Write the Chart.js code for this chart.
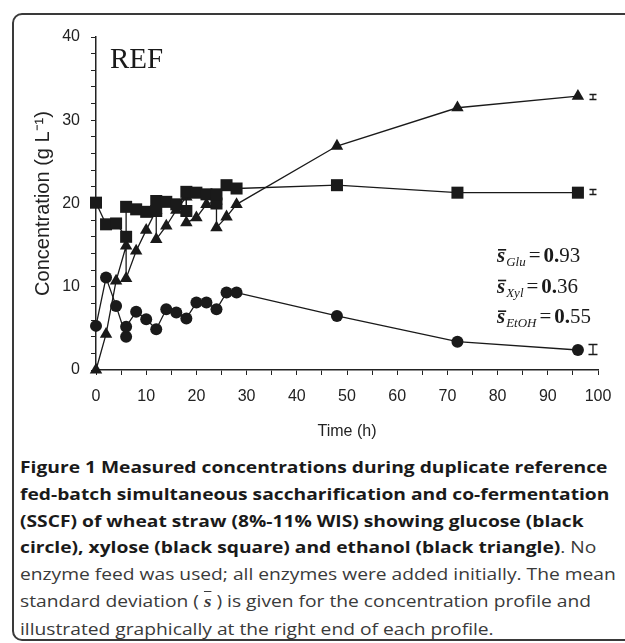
<!DOCTYPE html>
<html>
<head>
<meta charset="utf-8">
<script src="https://cdn.jsdelivr.net/npm/chart.js@4.4.0/dist/chart.umd.min.js"></script>
<style>
  html, body { margin: 0; padding: 0; background: #fff; }
  body { width: 625px; height: 643px; position: relative; overflow: hidden; }
  #frame { position: absolute; left: 12px; top: 13px; width: 650px; height: 628px; border: 2px solid #3a3a3a; border-radius: 10px; box-sizing: border-box; }
  #chartCanvas { position: absolute; left: 0; top: 0; }
  #caption { position: absolute; left: 20px; top: 454px; font-family: "Open Sans"; font-size: 16.5px; line-height: 26.8px; color: #3a3a3a; white-space: nowrap; transform: scaleX(1.165); transform-origin: 0 0; }
  #caption b { color: #1a1a1a; }
  .sbar { font-family: "Liberation Serif"; font-style: italic; font-weight: bold; text-decoration: overline; }
</style>
</head>
<body>
<div id="frame"></div>
<canvas id="chartCanvas" width="625" height="450"></canvas>
<div id="caption"><b>Figure 1 Measured concentrations during duplicate reference<br>fed-batch simultaneous saccharification and co-fermentation<br>(SSCF) of wheat straw (8%-11% WIS) showing glucose (black<br>circle), xylose (black square) and ethanol (black triangle)</b>. No<br>enzyme feed was used; all enzymes were added initially. The mean<br>standard deviation ( <span class="sbar">s</span> ) is given for the concentration profile and<br>illustrated graphically at the right end of each profile.</div>
<script>
// measured values, duplicates listed in the order the line joins them
const glucoseTime = [0, 2, 4, 6, 6, 8, 10, 12, 14, 16, 18, 20, 22, 24, 26, 28, 48, 72, 96];
const glucoseConc = [5.3, 11.1, 7.7, 4.0, 5.2, 7.0, 6.1, 4.9, 7.3, 6.9, 6.2, 8.1, 8.1, 7.3, 9.3, 9.3, 6.5, 3.4, 2.4];

const xyloseTime = [0, 2, 4, 6, 6, 8, 10, 12, 12, 14, 16, 18, 18, 20, 22, 24, 24, 26, 28, 48, 72, 96];
const xyloseConc = [20.1, 17.5, 17.6, 16.0, 19.6, 19.3, 19.0, 19.1, 20.3, 20.2, 19.9, 19.1, 21.4, 21.3, 21.1, 20.0, 21.1, 22.2, 21.8, 22.2, 21.3, 21.3];

const ethanolTime = [0, 2, 4, 6, 6, 8, 10, 12, 12, 14, 16, 18, 18, 20, 22, 24, 24, 26, 28, 48, 72, 96];
const ethanolConc = [0, 4.3, 10.7, 14.9, 11.0, 14.3, 16.8, 19.2, 15.7, 17.3, 19.2, 20.8, 17.7, 18.3, 19.9, 20.3, 17.1, 18.4, 19.9, 26.9, 31.5, 32.9];

// mean standard deviations, drawn as bars at the right end
const sdNames = ["Glu", "Xyl", "EtOH"];
const sdText = [["0.", "93"], ["0.", "36"], ["0.", "55"]];
const barTime = 99;
const barCenter = [2.5, 21.4, 32.8];
const barHalf = [0.6, 0.3, 0.3];

const ink = "#1a1a1a";

function toPoints(t, v) {
    return t.map((x, i) => ({ x, y: v[i] }));
}

function series(label, t, v, style, radius) {
    return {
        label: label,
        data: toPoints(t, v),
        borderColor: ink,
        backgroundColor: ink,
        borderWidth: 1.3,
        pointStyle: style,
        pointRadius: radius,
        pointBorderWidth: 0,
        tension: 0,
        clip: false,
    };
}

const extras = {
    id: "extras",
    afterDatasetsDraw(chart) {
        const { ctx, scales: { x, y } } = chart;
        ctx.save();
        ctx.strokeStyle = ink;
        ctx.fillStyle = ink;
        ctx.lineWidth = 1.3;

        // error bars
        barCenter.forEach((c, i) => {
            const px = x.getPixelForValue(barTime);
            const top = Math.round(y.getPixelForValue(c + barHalf[i])) + 0.5;
            const bot = Math.round(y.getPixelForValue(c - barHalf[i])) + 0.5;
            const w = i === 0 ? 4.5 : 3.5;
            ctx.beginPath();
            ctx.moveTo(px, top); ctx.lineTo(px, bot);
            ctx.moveTo(px - w, top); ctx.lineTo(px + w, top);
            ctx.moveTo(px - w, bot); ctx.lineTo(px + w, bot);
            ctx.stroke();
        });

        ctx.textBaseline = "alphabetic";
        ctx.font = '29px "Liberation Serif"';
        ctx.fillText("REF", 110, 68);

        sdNames.forEach((name, i) => {
            let cx = 497;
            const by = 262 + i * 30.7;
            ctx.font = 'italic bold 21px "Liberation Serif"';
            ctx.fillText("s", cx, by);
            const sw = ctx.measureText("s").width;
            ctx.fillRect(cx + 1, by - 13, sw, 1.6);
            cx += sw + 1;
            ctx.font = 'italic 13px "Liberation Serif"';
            ctx.fillText(name, cx, by + 4);
            cx += ctx.measureText(name).width + 3;
            ctx.font = '21px "Liberation Serif"';
            ctx.fillText("=", cx, by);
            cx += ctx.measureText("=").width + 3;
            ctx.font = 'bold 21px "Liberation Serif"';
            ctx.fillText(sdText[i][0], cx, by);
            cx += ctx.measureText(sdText[i][0]).width;
            ctx.font = '21px "Liberation Serif"';
            ctx.fillText(sdText[i][1], cx, by);
        });
        ctx.restore();
    },
};

const axisFont = { family: "Liberation Sans", size: 16 };

new Chart(document.getElementById("chartCanvas"), {
    type: "line",
    data: {
        datasets: [
            series("Glucose", glucoseTime, glucoseConc, "circle", 6),
            series("Xylose", xyloseTime, xyloseConc, "rect", 8.5),
            series("Ethanol", ethanolTime, ethanolConc, "triangle", 7.2),
        ],
    },
    options: {
        responsive: false,
        animation: false,
        devicePixelRatio: 1,
        layout: { padding: { left: 31, top: 37, right: 27, bottom: 0 } },
        plugins: { legend: { display: false }, tooltip: { enabled: false } },
        scales: {
            x: {
                type: "linear",
                min: 0,
                max: 100,
                afterFit: s => { s.height = 80; },
                ticks: {
                    stepSize: 5,
                    autoSkip: false,
                    maxRotation: 0,
                    padding: 12,
                    color: "#222",
                    font: axisFont,
                    callback: v => (v % 10 === 0 ? v : ""),
                },
                grid: { drawOnChartArea: false, tickLength: 5, color: "#222", lineWidth: 1 },
                border: { color: "#222", width: 1.5 },
                title: { display: true, text: "Time (h)", color: "#222", font: { family: "Liberation Sans", size: 16 }, padding: { bottom: 9 } },
            },
            y: {
                min: 0,
                max: 40,
                afterFit: s => { s.width = 65; },
                ticks: {
                    stepSize: 2,
                    autoSkip: false,
                    padding: 11,
                    color: "#222",
                    font: axisFont,
                    callback: v => (v % 10 === 0 ? v : ""),
                },
                grid: { drawOnChartArea: false, tickLength: 5, color: "#222", lineWidth: 1 },
                border: { color: "#222", width: 1.5 },
                title: { display: true, text: "Concentration (g L\u207B\u00B9)", color: "#222", font: { family: "Liberation Sans", size: 20 }, padding: { top: 0 } },
            },
        },
    },
    plugins: [extras],
});
</script>
</body>
</html>
